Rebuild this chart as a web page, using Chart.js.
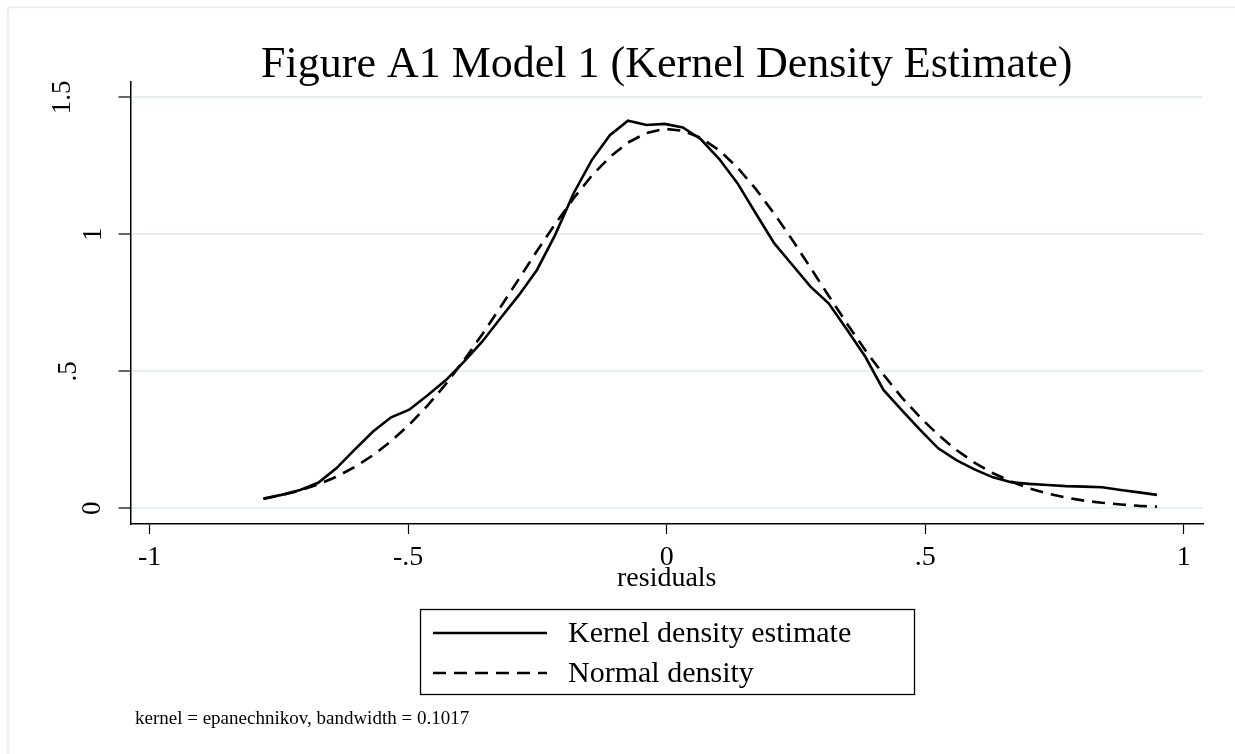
<!DOCTYPE html>
<html>
<head>
<meta charset="utf-8">
<script src="https://cdn.jsdelivr.net/npm/chart.js@4.4.1/dist/chart.umd.min.js"></script>
<style>
  html, body { margin: 0; padding: 0; background: #ffffff; }
  #wrap { width: 1235px; height: 754px; position: relative; }
</style>
</head>
<body>
<div id="wrap"><canvas id="c" width="1235" height="754"></canvas></div>
<script>
// ---- data ----
const titleText = 'Figure A1 Model 1 (Kernel Density Estimate)';
const xAxisTitle = 'residuals';
const noteText = 'kernel = epanechnikov, bandwidth = 0.1017';
const seriesLabels = ['Kernel density estimate', 'Normal density'];

const residuals = [
  -0.780, -0.745, -0.709, -0.674, -0.639, -0.604, -0.568, -0.533, -0.498, -0.463,
  -0.427, -0.392, -0.357, -0.322, -0.286, -0.251, -0.216, -0.180, -0.145, -0.110,
  -0.075, -0.039, -0.004, 0.031, 0.066, 0.102, 0.137, 0.172, 0.208, 0.243,
  0.278, 0.313, 0.349, 0.384, 0.419, 0.454, 0.490, 0.525, 0.560, 0.595,
  0.631, 0.666, 0.701, 0.737, 0.772, 0.807, 0.842, 0.878, 0.913, 0.948
];
const kernelDensity = [
  0.036, 0.049, 0.067, 0.093, 0.146, 0.213, 0.280, 0.332, 0.360, 0.412,
  0.468, 0.535, 0.608, 0.693, 0.778, 0.870, 0.997, 1.150, 1.271, 1.362,
  1.415, 1.399, 1.403, 1.390, 1.347, 1.274, 1.186, 1.077, 0.967, 0.888,
  0.809, 0.748, 0.651, 0.553, 0.432, 0.359, 0.286, 0.219, 0.176, 0.142,
  0.113, 0.095, 0.089, 0.085, 0.081, 0.079, 0.077, 0.067, 0.058, 0.049
];
const normalDensity = [
  0.034, 0.048, 0.065, 0.087, 0.115, 0.150, 0.194, 0.245, 0.305, 0.374,
  0.454, 0.541, 0.634, 0.733, 0.837, 0.939, 1.037, 1.132, 1.214, 1.282,
  1.335, 1.370, 1.385, 1.378, 1.352, 1.306, 1.243, 1.166, 1.075, 0.979,
  0.878, 0.776, 0.673, 0.577, 0.488, 0.406, 0.332, 0.268, 0.213, 0.167,
  0.128, 0.098, 0.073, 0.054, 0.039, 0.028, 0.020, 0.014, 0.009, 0.006
];
const xTickValues = [-1, -0.5, 0, 0.5, 1];
const xTickLabels = ['-1', '-.5', '0', '.5', '1'];
const yTickValues = [0, 0.5, 1, 1.5];
const yTickLabels = ['0', '.5', '1', '1.5'];

// ---- styling ----
const SERIF = "'Liberation Serif', 'Times New Roman', serif";
const GRID = '#e6eff1';
const yLabelCenterX = { '0': 93, '.5': 69, '1': 94, '1.5': 63 };

function toPoints(xs, ys) { return xs.map((x, i) => ({ x: x, y: ys[i] })); }

const decor = {
  id: 'decor',
  beforeDraw(chart) {
    const ctx = chart.ctx;
    ctx.save();
    ctx.fillStyle = '#ffffff';
    ctx.fillRect(0, 0, chart.width, chart.height);
    ctx.strokeStyle = '#e3ecef';
    ctx.lineWidth = 1.5;
    ctx.strokeRect(8, 7.5, 1300, 800);
    ctx.restore();
  },
  afterDraw(chart) {
    const ctx = chart.ctx;
    const area = chart.chartArea;
    const ys = chart.scales.y;
    const cx = (area.left + area.right) / 2;
    ctx.save();
    ctx.fillStyle = '#000';
    // title
    ctx.font = '44px ' + SERIF;
    ctx.textAlign = 'center';
    ctx.textBaseline = 'alphabetic';
    ctx.fillText(titleText, cx, 77);
    // y tick labels (rotated)
    ctx.font = '27px ' + SERIF;
    yTickValues.forEach((v, i) => {
      const lab = yTickLabels[i];
      const py = ys.getPixelForValue(v);
      ctx.save();
      ctx.translate(yLabelCenterX[lab], py);
      ctx.rotate(-Math.PI / 2);
      ctx.textAlign = 'center';
      ctx.textBaseline = 'middle';
      ctx.fillText(lab, 0, 0);
      ctx.restore();
    });
    // x axis title
    ctx.font = '28px ' + SERIF;
    ctx.textAlign = 'center';
    ctx.textBaseline = 'middle';
    ctx.fillText(xAxisTitle, cx, 579);
    // legend
    const lx = 420.5, ly = 609.5, lw = 494, lh = 85;
    ctx.strokeStyle = '#000';
    ctx.lineWidth = 1.3;
    ctx.strokeRect(lx, ly, lw, lh);
    chart.data.datasets.forEach((ds, i) => {
      const rowY = 633 + i * 40;
      ctx.save();
      ctx.strokeStyle = ds.borderColor;
      ctx.lineWidth = ds.borderWidth;
      ctx.setLineDash(ds.borderDash || []);
      ctx.beginPath();
      ctx.moveTo(433, rowY);
      ctx.lineTo(547, rowY);
      ctx.stroke();
      ctx.restore();
      ctx.font = '30px ' + SERIF;
      ctx.textAlign = 'left';
      ctx.textBaseline = 'middle';
      ctx.fillStyle = '#000';
      ctx.fillText(ds.label, 568, rowY + 1);
    });
    // note
    ctx.font = '19px ' + SERIF;
    ctx.textAlign = 'left';
    ctx.textBaseline = 'alphabetic';
    ctx.fillText(noteText, 135, 724);
    ctx.restore();
  }
};

new Chart(document.getElementById('c'), {
  type: 'line',
  data: {
    datasets: [
      {
        label: seriesLabels[0],
        data: toPoints(residuals, kernelDensity),
        borderColor: '#000000',
        borderWidth: 2.6,
        pointRadius: 0,
        tension: 0,
        fill: false
      },
      {
        label: seriesLabels[1],
        data: toPoints(residuals, normalDensity),
        borderColor: '#000000',
        borderWidth: 2.6,
        borderDash: [13, 8],
        pointRadius: 0,
        tension: 0,
        fill: false
      }
    ]
  },
  options: {
    responsive: false,
    animation: false,
    devicePixelRatio: 1,
    layout: { padding: { left: 8, top: 82, right: 32, bottom: 150 } },
    plugins: { legend: { display: false }, title: { display: false }, tooltip: { enabled: false } },
    scales: {
      x: {
        type: 'linear',
        min: -1.037,
        max: 1.037,
        afterBuildTicks: (s) => { s.ticks = xTickValues.map(v => ({ value: v })); },
        afterFit: (s) => { s.height = 80; },
        ticks: {
          color: '#000',
          font: { family: SERIF, size: 28 },
          padding: 7,
          maxRotation: 0,
          callback: (v) => { const i = xTickValues.indexOf(v); return i >= 0 ? xTickLabels[i] : ''; }
        },
        grid: { drawOnChartArea: false, drawTicks: true, tickLength: 10, tickColor: '#000', tickWidth: 1.2 },
        border: { display: true, color: '#000', width: 1.5 }
      },
      y: {
        type: 'linear',
        min: -0.0573,
        max: 1.556,
        afterBuildTicks: (s) => { s.ticks = yTickValues.map(v => ({ value: v })); },
        afterFit: (s) => { s.width = 122.5; },
        ticks: { display: false },
        grid: { color: GRID, lineWidth: 2, drawTicks: true, tickLength: 12, tickColor: '#000', tickWidth: 1.2 },
        border: { display: true, color: '#000', width: 1.5 }
      }
    }
  },
  plugins: [decor]
});
</script>
</body>
</html>
